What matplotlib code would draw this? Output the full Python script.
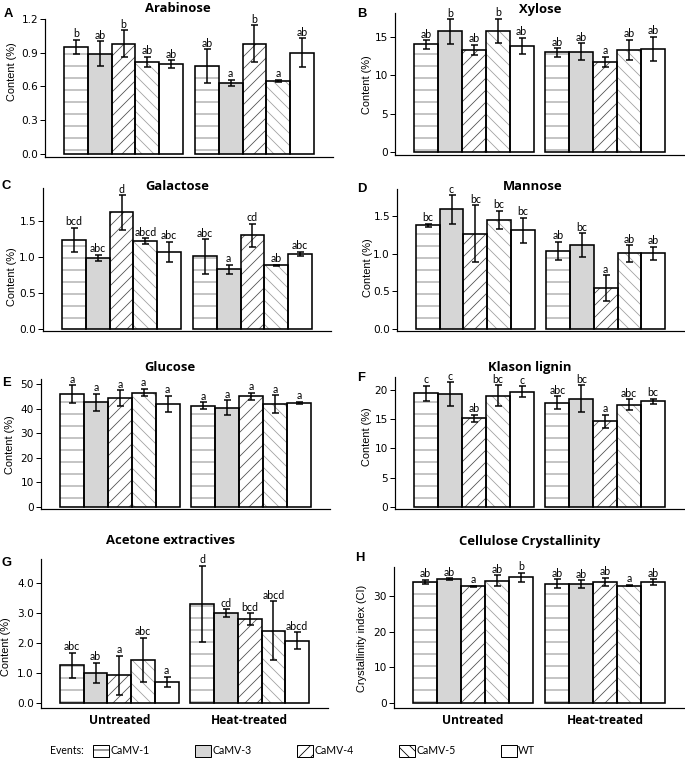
import matplotlib
matplotlib.use("Agg")
import matplotlib.pyplot as plt
from matplotlib.patches import Patch

# ---------------- data ----------------
events = ["CaMV-1", "CaMV-3", "CaMV-4", "CaMV-5", "WT"]
treatments = ["Untreated", "Heat-treated"]

# each list: 5 untreated values then 5 heat-treated values (event order above)
arabinose_mean = [0.95, 0.89, 0.98, 0.82, 0.80, 0.78, 0.63, 0.98, 0.65, 0.90]
arabinose_sd = [0.065, 0.11, 0.12, 0.045, 0.035, 0.15, 0.03, 0.165, 0.01, 0.13]
arabinose_letters = ["b", "ab", "b", "ab", "ab", "ab", "a", "b", "a", "ab"]

xylose_mean = [14.04, 15.74, 13.3, 15.78, 13.83, 13.0, 13.09, 11.78, 13.3, 13.48]
xylose_sd = [0.55, 1.6, 0.7, 1.6, 1.05, 0.55, 1.1, 0.65, 1.35, 1.55]
xylose_letters = ["ab", "b", "ab", "b", "ab", "ab", "ab", "a", "ab", "ab"]

galactose_mean = [1.24, 0.99, 1.62, 1.22, 1.07, 1.01, 0.83, 1.30, 0.885, 1.045]
galactose_sd = [0.17, 0.04, 0.24, 0.04, 0.14, 0.24, 0.06, 0.16, 0.01, 0.025]
galactose_letters = ["bcd", "abc", "d", "abcd", "abc", "abc", "a", "cd", "ab", "abc"]

mannose_mean = [1.38, 1.59, 1.265, 1.45, 1.31, 1.035, 1.115, 0.545, 1.005, 1.005]
mannose_sd = [0.02, 0.19, 0.38, 0.12, 0.17, 0.125, 0.16, 0.17, 0.11, 0.09]
mannose_letters = ["bc", "c", "bc", "bc", "bc", "ab", "bc", "a", "ab", "ab"]

glucose_mean = [45.8, 42.5, 44.2, 46.5, 41.8, 41.2, 40.4, 45.0, 41.8, 42.3]
glucose_sd = [3.7, 3.5, 3.3, 1.5, 3.4, 1.3, 3.0, 1.5, 3.6, 0.4]
glucose_letters = ["a"] * 10

lignin_mean = [19.43, 19.3, 15.14, 18.97, 19.66, 17.83, 18.5, 14.63, 17.49, 18.06]
lignin_sd = [1.3, 2.0, 0.6, 1.8, 0.95, 1.05, 2.3, 1.15, 0.95, 0.4]
lignin_letters = ["c", "c", "ab", "bc", "c", "abc", "bc", "a", "abc", "bc"]

acetone_mean = [1.25, 1.01, 0.92, 1.43, 0.70, 3.31, 2.99, 2.79, 2.41, 2.08]
acetone_sd = [0.42, 0.33, 0.65, 0.74, 0.18, 1.27, 0.13, 0.2, 0.98, 0.27]
acetone_letters = ["abc", "ab", "a", "abc", "a", "d", "cd", "bcd", "abcd", "abcd"]

crystallinity_mean = [33.9, 34.7, 32.7, 34.3, 35.2, 33.4, 33.4, 33.9, 32.9, 33.9]
crystallinity_sd = [0.6, 0.2, 0.2, 1.45, 1.3, 1.3, 1.05, 1.2, 0.2, 0.8]
crystallinity_letters = ["ab", "ab", "a", "ab", "b", "ab", "ab", "ab", "a", "ab"]

# ---------------- styles ----------------
W, H, DPI = 685, 767, 72
plt.rcParams["hatch.linewidth"] = 0.8

face_colors = ["white", "#d6d6d6", "white", "white", "white"]
hatches = ["-", None, "//", "\\\\", None]
hatch_colors = ["#707070", "#d6d6d6", "#505050", "#a0a0a0", "white"]

NARROW = ["Liberation Sans Narrow", "DejaVu Sans"]
SANS = ["Liberation Sans", "DejaVu Sans"]
TITLEF = ["Open Sans", "DejaVu Sans"]
LETF = ["Lato", "DejaVu Sans"]

fig = plt.figure(figsize=(W / DPI, H / DPI), dpi=DPI)


def fx(x):
    return x / W


def fy(y):
    return 1 - y / H


def box(l, r, t, b):
    return [l / W, 1 - b / H, (r - l) / W, (b - t) / H]


panels = [
    dict(tag="A", title="Arabinose", mean=arabinose_mean, sd=arabinose_sd, let=arabinose_letters,
         box=(45, 333, 19, 157), ylim=(-0.027, 1.2), yt=[0, 0.3, 0.6, 0.9, 1.2], fmt="{:.1f}",
         ylab="Content (%)", tpos=(178, 8), lpos=(8, 14), ylpos=(12, 72)),
    dict(tag="B", title="Xylose", mean=xylose_mean, sd=xylose_sd, let=xylose_letters,
         box=(395, 684, 13, 155), ylim=(-0.39, 18.13), yt=[0, 5, 10, 15], fmt="{:.0f}",
         ylab="Content (%)", tpos=(540, 10), lpos=(362, 14), ylpos=(367, 85)),
    dict(tag="C", title="Galactose", mean=galactose_mean, sd=galactose_sd, let=galactose_letters,
         box=(43, 331, 188, 331), ylim=(-0.03, 1.96), yt=[0, 0.5, 1.0, 1.5], fmt="{:.1f}",
         ylab="Content (%)", tpos=(177, 186), lpos=(6, 186), ylpos=(12, 277)),
    dict(tag="D", title="Mannose", mean=mannose_mean, sd=mannose_sd, let=mannose_letters,
         box=(397, 684, 189, 331), ylim=(-0.027, 1.86), yt=[0, 0.5, 1.0, 1.5], fmt="{:.1f}",
         ylab="Content (%)", tpos=(533, 187), lpos=(362, 189), ylpos=(368, 268)),
    dict(tag="E", title="Glucose", mean=glucose_mean, sd=glucose_sd, let=glucose_letters,
         box=(41, 330, 379, 508.5), ylim=(-0.6, 52), yt=[0, 10, 20, 30, 40, 50], fmt="{:.0f}",
         ylab="Content (%)", tpos=(170, 368), lpos=(6, 383), ylpos=(10, 445)),
    dict(tag="F", title="Klason lignin", mean=lignin_mean, sd=lignin_sd, let=lignin_letters,
         box=(395, 684, 377, 509), ylim=(-0.34, 22.2), yt=[0, 5, 10, 15, 20], fmt="{:.0f}",
         ylab="Content (%)", tpos=(530, 367), lpos=(361, 378), ylpos=(367, 437)),
    dict(tag="G", title="Acetone extractives", mean=acetone_mean, sd=acetone_sd, let=acetone_letters,
         box=(41, 328, 559, 708), ylim=(-0.17, 4.8), yt=[0, 1, 2, 3, 4], fmt="{:.1f}",
         ylab="Content (%)", tpos=(171, 541), lpos=(7, 563), ylpos=(6, 647), xl=True),
    dict(tag="H", title="Cellulose Crystallinity", mean=crystallinity_mean, sd=crystallinity_sd,
         let=crystallinity_letters, box=(394, 684, 567, 708), ylim=(-1.4, 38.1), yt=[0, 10, 20, 30],
         fmt="{:.0f}", ylab="Crystallinity index (CI)", tpos=(530, 541), lpos=(360, 558),
         ylpos=(362, 638), xl=True),
]

group_gap = 0.5
xpos = [i for i in range(5)] + [5 + group_gap + i for i in range(5)]

for p in panels:
    ax = fig.add_axes(box(*p["box"]))
    fc = face_colors * 2
    hc = hatch_colors * 2
    ht = hatches * 2
    for i in range(10):
        ax.bar(xpos[i], p["mean"][i], width=1.0, color=fc[i], hatch=ht[i],
               edgecolor=hc[i], linewidth=0, zorder=2)
    ax.bar(xpos, p["mean"], width=1.0, fill=False, edgecolor="black", linewidth=1.6, zorder=3)
    ax.errorbar(xpos, p["mean"], yerr=p["sd"], fmt="none", ecolor="black",
                elinewidth=1.5, capsize=3.5, capthick=1.5, zorder=4)
    for i in range(10):
        ax.annotate(p["let"][i], (xpos[i], p["mean"][i] + p["sd"][i]), xytext=(0, 0.5),
                    textcoords="offset points", ha="center", va="bottom",
                    fontsize=10.5, family=LETF, zorder=5)
    ax.set_xlim(-1.3, 10.8)
    ax.set_ylim(*p["ylim"])
    ax.set_yticks(p["yt"])
    ax.set_yticklabels([p["fmt"].format(v) for v in p["yt"]], family=NARROW, fontsize=10.5)
    ax.tick_params(axis="y", direction="out", length=5, width=1, pad=2)
    for s in ("top", "right"):
        ax.spines[s].set_visible(False)
    for s in ("left", "bottom"):
        ax.spines[s].set_linewidth(1.2)
    if p.get("xl"):
        ax.set_xticks([2, 5 + group_gap + 2])
        ax.set_xticklabels(treatments, fontsize=12, fontweight="bold", family=TITLEF)
        ax.tick_params(axis="x", length=0, pad=6)
    else:
        ax.set_xticks([])
    fig.text(fx(p["tpos"][0]), fy(p["tpos"][1]), p["title"], ha="center", va="center",
             fontsize=13, fontweight="bold", family=TITLEF)
    fig.text(fx(p["lpos"][0]), fy(p["lpos"][1]), p["tag"], ha="center", va="center",
             fontsize=13, fontweight="bold", family=SANS)
    fig.text(fx(p["ylpos"][0]), fy(p["ylpos"][1]), p["ylab"], ha="center", va="center",
             rotation=90, fontsize=11, family=SANS)

# legend
handles = [Patch(facecolor=face_colors[i], edgecolor="black", hatch=hatches[i], linewidth=1.0)
           for i in range(5)]
fig.text(fx(50), fy(751), "Events:", ha="left", va="center", fontsize=10.5, family=LETF)
fig.legend(handles, events, loc="center left", bbox_to_anchor=(fx(93), fy(751)), ncol=5,
           frameon=False, borderpad=0, borderaxespad=0, handlelength=1.52, handleheight=1.52,
           handletextpad=0.15, columnspacing=4.3, prop={"family": LETF, "size": 10.5})

fig.savefig("out.png", dpi=DPI)
